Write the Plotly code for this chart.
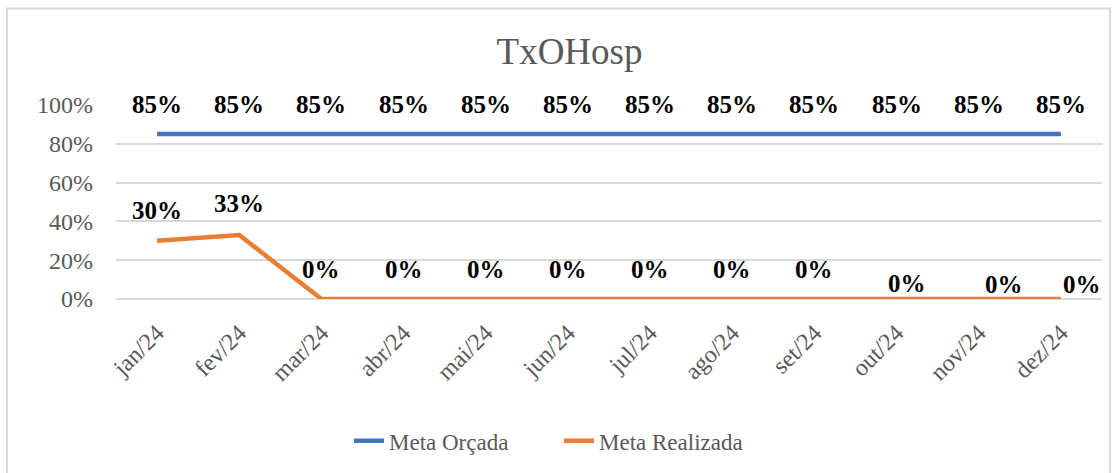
import plotly.graph_objects as go

months = ["jan/24", "fev/24", "mar/24", "abr/24", "mai/24", "jun/24",
          "jul/24", "ago/24", "set/24", "out/24", "nov/24", "dez/24"]
meta_orcada = [0.85] * 12
meta_realizada = [0.30, 0.33, 0, 0, 0, 0, 0, 0, 0, 0, 0, 0]
label_orcada = ["85%"] * 12
label_realizada = ["30%", "33%", "0%", "0%", "0%", "0%", "0%", "0%", "0%", "0%", "0%", "0%"]

# label offsets (pixels) mimicking manually placed labels
shift_y_orcada = [30] * 12
shift_y_realizada = [30, 31, 30, 30, 30, 30, 30, 30, 30, 16, 15, 15]
shift_x_realizada = [0, 0, 0, 0, 0, 0, 0, 0, 0, 10, 25, 21]

SERIF = "Liberation Serif, Times New Roman, serif"
GRAY = "#595959"

fig = go.Figure()
fig.add_trace(go.Scatter(x=months, y=meta_orcada, mode="lines", name="Meta Orçada",
                         line=dict(color="#4472C4", width=4.5)))
fig.add_trace(go.Scatter(x=months, y=meta_realizada, mode="lines", name="Meta Realizada",
                         line=dict(color="#ED7D31", width=4.5)))

annots = []
for m, v, t, dy in zip(months, meta_orcada, label_orcada, shift_y_orcada):
    annots.append(dict(x=m, y=v, text=t, showarrow=False, yshift=dy, xref="x", yref="y",
                       font=dict(family=SERIF, size=25, color="black", weight="bold")))
for m, v, t, dy, dx in zip(months, meta_realizada, label_realizada, shift_y_realizada, shift_x_realizada):
    annots.append(dict(x=m, y=v, text=t, showarrow=False, yshift=dy, xshift=dx, xref="x", yref="y",
                       font=dict(family=SERIF, size=25, color="black", weight="bold")))

fig.update_layout(
    width=1118, height=473,
    paper_bgcolor="white", plot_bgcolor="white",
    margin=dict(l=116, r=16, t=105, b=174, autoexpand=False),
    title=dict(text="TxOHosp", x=0.5094, xanchor="center", y=0.893, yanchor="middle",
               xref="container", yref="container",
               font=dict(family=SERIF, size=37, color=GRAY)),
    annotations=annots,
    showlegend=True,
    legend=dict(orientation="h", xref="container", yref="container",
                x=0.5, xanchor="center", y=0.068, yanchor="middle",
                entrywidth=165, entrywidthmode="pixels",
                font=dict(family=SERIF, size=23, color=GRAY), bgcolor="rgba(0,0,0,0)"),
    xaxis=dict(type="category", range=[-0.5, 11.5], showgrid=False, showline=False,
               tickangle=-45, ticks="", ticklabelstandoff=14,
               tickfont=dict(family=SERIF, size=24, color=GRAY)),
    yaxis=dict(range=[0, 1.0], dtick=0.2, tickformat=".0%", showgrid=True,
               gridcolor="#d9d9d9", gridwidth=1.5, zeroline=True, zerolinecolor="#d9d9d9",
               zerolinewidth=1.5, showline=False, ticks="", ticklabelstandoff=22,
               tickfont=dict(family=SERIF, size=24, color=GRAY)),
    shapes=[dict(type="rect", xref="paper", yref="paper",
                 x0=-0.1105, x1=1.0081, y0=-1.0, y1=1.498,
                 line=dict(color="#d9d9d9", width=2), fillcolor="rgba(0,0,0,0)", layer="below")],
)

fig.write_html("out.html", config={"displayModeBar": False},
               post_script="document.body.style.margin='0';")
